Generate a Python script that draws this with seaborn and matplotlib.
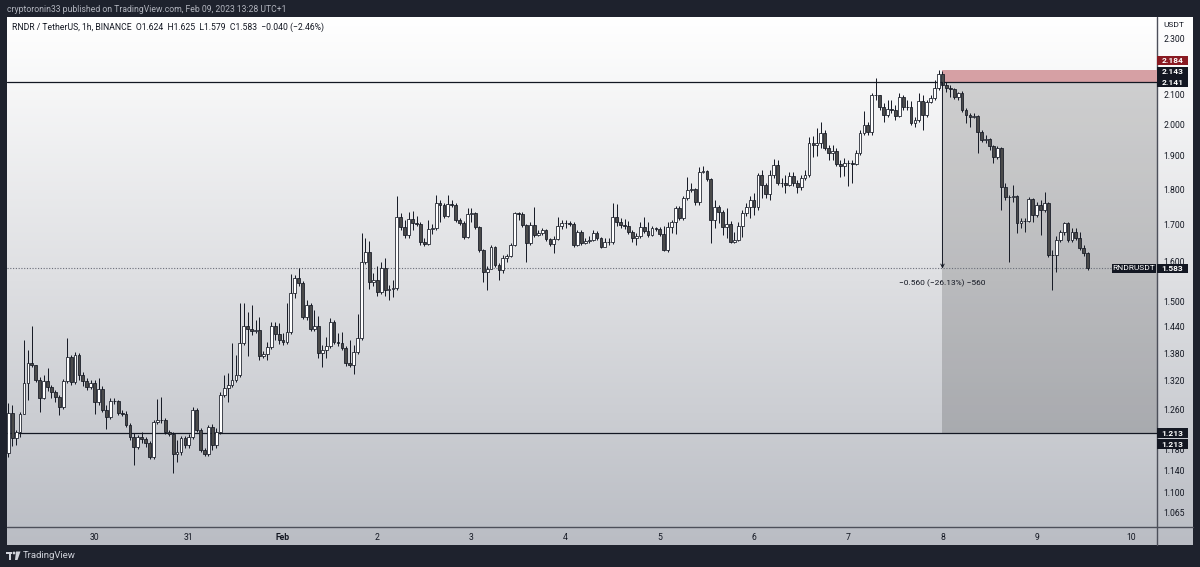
import numpy as np
import pandas as pd
import matplotlib
matplotlib.use("Agg")
import matplotlib.pyplot as plt
import seaborn as sns
from matplotlib.patches import Rectangle, Polygon, Circle
from matplotlib.lines import Line2D
from matplotlib.colors import LinearSegmentedColormap
from matplotlib.transforms import IdentityTransform
from matplotlib.ticker import NullLocator

# RNDR / USDT hourly candles, Jan 29 02:00 -> Feb 9 13:00 (UTC+1)
start_time = "2023-01-29 02:00"
first_open = 1.173
close = [
    1.253, 1.203, 1.214, 1.251, 1.315, 1.358, 1.354, 1.321, 1.283, 1.319, 1.306, 1.296,
    1.285, 1.265, 1.319, 1.371, 1.317, 1.376, 1.332, 1.319, 1.306, 1.315, 1.275, 1.302,
    1.259, 1.245, 1.277, 1.277, 1.253, 1.251, 1.228, 1.205, 1.185, 1.205, 1.201, 1.193,
    1.166, 1.234, 1.238, 1.238, 1.214, 1.210, 1.171, 1.175, 1.203, 1.189, 1.205, 1.259,
    1.218, 1.179, 1.171, 1.224, 1.189, 1.214, 1.290, 1.304, 1.310, 1.321, 1.332, 1.403,
    1.442, 1.435, 1.431, 1.433, 1.374, 1.378, 1.394, 1.442, 1.424, 1.410, 1.405, 1.428,
    1.522, 1.559, 1.547, 1.463, 1.492, 1.435, 1.442, 1.380, 1.387, 1.396, 1.451, 1.405,
    1.403, 1.392, 1.358, 1.354, 1.383, 1.415, 1.600, 1.626, 1.549, 1.554, 1.524, 1.584,
    1.529, 1.532, 1.534, 1.720, 1.693, 1.672, 1.715, 1.704, 1.701, 1.653, 1.647, 1.688,
    1.690, 1.760, 1.755, 1.723, 1.758, 1.755, 1.712, 1.704, 1.666, 1.729, 1.732, 1.693,
    1.631, 1.574, 1.582, 1.639, 1.592, 1.579, 1.610, 1.615, 1.645, 1.732, 1.729, 1.699,
    1.650, 1.699, 1.672, 1.677, 1.685, 1.661, 1.647, 1.661, 1.696, 1.704, 1.704, 1.701,
    1.645, 1.680, 1.650, 1.655, 1.658, 1.677, 1.663, 1.639, 1.653, 1.653, 1.720, 1.707,
    1.699, 1.696, 1.680, 1.663, 1.669, 1.693, 1.682, 1.672, 1.690, 1.688, 1.674, 1.631,
    1.693, 1.707, 1.746, 1.718, 1.775, 1.798, 1.801, 1.763, 1.851, 1.854, 1.830, 1.712,
    1.749, 1.735, 1.693, 1.701, 1.653, 1.658, 1.696, 1.732, 1.749, 1.769, 1.749, 1.842,
    1.812, 1.786, 1.842, 1.872, 1.818, 1.818, 1.812, 1.839, 1.818, 1.807, 1.833, 1.842,
    1.940, 1.934, 1.940, 1.972, 1.924, 1.909, 1.915, 1.875, 1.869, 1.878, 1.878, 1.875,
    1.909, 1.972, 1.998, 1.975, 2.097, 2.097, 2.057, 2.030, 2.050, 2.047, 2.027, 2.090,
    2.057, 2.057, 2.004, 2.014, 2.077, 2.030, 2.073, 2.087, 2.121, 2.170, 2.131, 2.121,
    2.117, 2.090, 2.104, 2.047, 2.030, 2.024, 2.027, 1.975, 1.950, 1.953, 1.931, 1.896,
    1.924, 1.807, 1.778, 1.778, 1.781, 1.704, 1.710, 1.710, 1.772, 1.726, 1.755, 1.740,
    1.760, 1.618, 1.618, 1.658, 1.680, 1.704, 1.658, 1.680, 1.663, 1.637, 1.624, 1.583,
]
high = [
    1.273, 1.269, 1.218, 1.255, 1.410, 1.387, 1.442, 1.354, 1.328, 1.332, 1.347, 1.310,
    1.300, 1.290, 1.323, 1.415, 1.376, 1.383, 1.380, 1.339, 1.325, 1.321, 1.321, 1.325,
    1.308, 1.269, 1.283, 1.283, 1.279, 1.259, 1.257, 1.232, 1.212, 1.208, 1.214, 1.205,
    1.197, 1.238, 1.281, 1.285, 1.242, 1.218, 1.214, 1.199, 1.207, 1.207, 1.210, 1.265,
    1.263, 1.222, 1.183, 1.228, 1.230, 1.222, 1.296, 1.332, 1.336, 1.403, 1.376, 1.497,
    1.497, 1.475, 1.492, 1.456, 1.463, 1.385, 1.405, 1.451, 1.451, 1.449, 1.426, 1.497,
    1.569, 1.567, 1.584, 1.552, 1.504, 1.497, 1.480, 1.466, 1.399, 1.417, 1.461, 1.456,
    1.426, 1.428, 1.396, 1.410, 1.399, 1.470, 1.677, 1.663, 1.655, 1.572, 1.590, 1.600,
    1.610, 1.542, 1.554, 1.781, 1.732, 1.712, 1.735, 1.737, 1.723, 1.707, 1.663, 1.712,
    1.701, 1.784, 1.769, 1.760, 1.784, 1.769, 1.760, 1.718, 1.710, 1.746, 1.746, 1.735,
    1.696, 1.634, 1.590, 1.645, 1.642, 1.597, 1.618, 1.621, 1.650, 1.735, 1.735, 1.735,
    1.701, 1.707, 1.749, 1.685, 1.690, 1.688, 1.663, 1.669, 1.720, 1.712, 1.712, 1.710,
    1.707, 1.685, 1.685, 1.663, 1.669, 1.685, 1.682, 1.666, 1.663, 1.663, 1.760, 1.758,
    1.718, 1.715, 1.710, 1.685, 1.677, 1.707, 1.720, 1.707, 1.696, 1.693, 1.693, 1.696,
    1.707, 1.712, 1.752, 1.752, 1.781, 1.836, 1.818, 1.805, 1.866, 1.869, 1.857, 1.833,
    1.769, 1.755, 1.740, 1.746, 1.710, 1.680, 1.707, 1.740, 1.760, 1.781, 1.789, 1.848,
    1.857, 1.818, 1.857, 1.890, 1.887, 1.833, 1.842, 1.851, 1.851, 1.827, 1.842, 1.857,
    1.959, 1.962, 1.988, 2.007, 1.981, 1.934, 1.934, 1.924, 1.887, 1.893, 1.887, 1.887,
    1.918, 1.981, 2.044, 2.007, 2.104, 2.156, 2.097, 2.070, 2.080, 2.080, 2.064, 2.104,
    2.097, 2.080, 2.077, 2.024, 2.104, 2.097, 2.080, 2.097, 2.149, 2.184, 2.180, 2.142,
    2.131, 2.121, 2.107, 2.111, 2.053, 2.037, 2.037, 2.030, 1.981, 1.966, 1.956, 1.934,
    1.931, 1.928, 1.818, 1.784, 1.812, 1.784, 1.718, 1.718, 1.778, 1.775, 1.763, 1.769,
    1.792, 1.763, 1.631, 1.669, 1.685, 1.707, 1.707, 1.690, 1.690, 1.680, 1.645, 1.625,
]
low = [
    1.166, 1.187, 1.189, 1.205, 1.251, 1.279, 1.350, 1.317, 1.255, 1.281, 1.298, 1.283,
    1.275, 1.249, 1.261, 1.315, 1.310, 1.313, 1.321, 1.308, 1.300, 1.302, 1.251, 1.269,
    1.255, 1.220, 1.240, 1.271, 1.249, 1.247, 1.224, 1.199, 1.151, 1.181, 1.193, 1.185,
    1.162, 1.162, 1.230, 1.232, 1.210, 1.207, 1.137, 1.156, 1.169, 1.183, 1.183, 1.201,
    1.214, 1.175, 1.168, 1.168, 1.179, 1.183, 1.210, 1.285, 1.275, 1.306, 1.317, 1.328,
    1.399, 1.374, 1.422, 1.426, 1.365, 1.369, 1.365, 1.389, 1.410, 1.401, 1.399, 1.401,
    1.424, 1.509, 1.539, 1.458, 1.456, 1.431, 1.431, 1.369, 1.350, 1.369, 1.392, 1.401,
    1.396, 1.387, 1.352, 1.350, 1.334, 1.378, 1.410, 1.595, 1.532, 1.539, 1.514, 1.519,
    1.514, 1.504, 1.512, 1.529, 1.685, 1.663, 1.663, 1.685, 1.696, 1.645, 1.642, 1.645,
    1.674, 1.685, 1.707, 1.718, 1.720, 1.749, 1.707, 1.699, 1.661, 1.663, 1.707, 1.688,
    1.626, 1.549, 1.529, 1.592, 1.587, 1.554, 1.572, 1.600, 1.613, 1.642, 1.712, 1.693,
    1.600, 1.645, 1.666, 1.669, 1.672, 1.655, 1.642, 1.623, 1.658, 1.688, 1.690, 1.696,
    1.639, 1.642, 1.645, 1.647, 1.650, 1.655, 1.658, 1.637, 1.642, 1.645, 1.647, 1.696,
    1.690, 1.688, 1.674, 1.653, 1.645, 1.663, 1.677, 1.666, 1.669, 1.682, 1.669, 1.628,
    1.626, 1.677, 1.674, 1.712, 1.712, 1.769, 1.792, 1.755, 1.755, 1.848, 1.824, 1.650,
    1.690, 1.704, 1.672, 1.663, 1.650, 1.650, 1.655, 1.666, 1.723, 1.718, 1.726, 1.740,
    1.775, 1.775, 1.769, 1.833, 1.812, 1.807, 1.789, 1.810, 1.810, 1.789, 1.798, 1.827,
    1.836, 1.896, 1.899, 1.924, 1.918, 1.887, 1.887, 1.869, 1.836, 1.839, 1.810, 1.818,
    1.872, 1.903, 1.966, 1.966, 1.966, 2.080, 2.047, 2.007, 2.024, 2.037, 2.014, 2.024,
    2.047, 2.047, 1.998, 1.991, 2.007, 1.981, 2.024, 2.070, 2.080, 2.114, 2.124, 2.107,
    2.090, 2.083, 2.080, 2.040, 2.004, 1.991, 2.020, 1.909, 1.944, 1.940, 1.918, 1.878,
    1.890, 1.740, 1.769, 1.600, 1.763, 1.677, 1.690, 1.680, 1.707, 1.707, 1.720, 1.672,
    1.735, 1.613, 1.529, 1.574, 1.653, 1.672, 1.653, 1.653, 1.658, 1.631, 1.615, 1.579,
]
assert len(close) == len(high) == len(low)

day_labels = ["30", "31", "Feb", "2", "3", "4", "5", "6", "7", "8", "9", "10"]
price_ticks = [2.300, 2.100, 2.000, 1.900, 1.800, 1.700, 1.600, 1.500,
               1.440, 1.380, 1.320, 1.260, 1.180, 1.140, 1.100, 1.065]

# short position drawn on the chart + horizontal levels
entry_time = "2023-02-08 00:00"
stop_price = 2.184
entry_price = 2.143
level_top = 2.141
target_price = 1.213
last_price = 1.583
measure_text = "\u22120.560 (\u221226.13%) \u2212560"

sns.set_theme(style="white")
plt.rcParams["font.family"] = ["Roboto", "DejaVu Sans"]

W, H = 1200, 567
INK = "#131722"


def fx(px):
    return px / W


def fy(py):
    return 1 - py / H


fig = plt.figure(figsize=(W / 100, H / 100), dpi=100)
fig.patch.set_facecolor("#1e222d")

# light panel with the vertical gradient
bg = fig.add_axes([fx(7), fy(545), fx(1193) - fx(7), fy(17) - fy(545)])
grad = np.linspace(0, 1, 256).reshape(-1, 1)
cmap = LinearSegmentedColormap.from_list("tvbg", ["#ffffff", "#dedfe2", "#babdc4"])
bg.imshow(grad, aspect="auto", cmap=cmap, extent=[0, 1, 0, 1], origin="upper")
bg.set_axis_off()

ax = fig.add_axes([fx(7), fy(527), fx(1157) - fx(7), fy(17) - fy(527)])
ax.set_zorder(2)
ax.patch.set_visible(False)

df = pd.DataFrame({
    "time": pd.date_range(start_time, periods=len(close), freq="h"),
    "close": close, "high": high, "low": low,
})
df["open"] = [first_open] + close[:-1]
df["x"] = (df["time"] - df["time"].iloc[0]) / pd.Timedelta(hours=1)
up = df["close"] >= df["open"]
body_lo = df[["open", "close"]].min(axis=1)
body_h = (df["close"] - df["open"]).abs()

ax.set_yscale("log")
ax.set_xlim(-0.33, 292.66)
ax.set_ylim(1.041, 2.380)

# candles
ax.vlines(df["x"], df["low"], df["high"], color=INK, lw=0.7, zorder=3)
ax.bar(df["x"][up], body_h[up], bottom=body_lo[up], width=0.72,
       color="white", edgecolor=INK, linewidth=0.55, zorder=4)
ax.bar(df["x"][~up], body_h[~up], bottom=body_lo[~up], width=0.72,
       color="#4a4a4a", edgecolor=INK, linewidth=0.55, zorder=4)

# position tool
entry_x = (pd.Timestamp(entry_time) - df["time"].iloc[0]) / pd.Timedelta(hours=1)
x_right = ax.get_xlim()[1]
ax.fill_between([entry_x, x_right], target_price, entry_price,
                color="black", alpha=0.16, lw=0, zorder=1)
ax.fill_between([entry_x, x_right], entry_price, stop_price,
                color="#d6a0a4", lw=0, zorder=1)
ax.axhline(level_top, color=INK, lw=0.9, zorder=2)
ax.axhline(target_price, color=INK, lw=0.9, zorder=2)
ax.axhline(last_price, color="#6a6d78", lw=0.8, ls=(0, (1, 1.5)), zorder=2)

ax.annotate("", xy=(entry_x, last_price), xytext=(entry_x, level_top),
            arrowprops=dict(arrowstyle="->", lw=0.7, color=INK,
                            shrinkA=0, shrinkB=0, mutation_scale=6), zorder=5)
ax.text(entry_x, 1.547, measure_text, ha="center", va="center",
        fontsize=6, color=INK, zorder=5)

# axes
day_x = (pd.date_range("2023-01-30", periods=len(day_labels), freq="D")
         - df["time"].iloc[0]) / pd.Timedelta(hours=1)
ax.set_xticks(day_x, day_labels)
ax.yaxis.tick_right()
ax.set_yticks(price_ticks, [f"{p:.3f}" for p in price_ticks])
ax.yaxis.set_minor_locator(NullLocator())
ax.tick_params(axis="y", length=0, pad=4.5, labelsize=6.2, labelcolor=INK)
ax.tick_params(axis="x", length=0, pad=4, labelsize=6.2, labelcolor=INK)
for lbl in ax.get_xticklabels():
    if lbl.get_text() == "Feb":
        lbl.set_fontweight("bold")
for s in ax.spines.values():
    s.set_visible(False)

fig.add_artist(Line2D([fx(7), fx(1193)], [fy(526.5)] * 2, transform=fig.transFigure,
                      color="#4c4f5a", lw=1.0))
fig.add_artist(Line2D([fx(1157)] * 2, [fy(17), fy(545)], transform=fig.transFigure,
                      color="#4c4f5a", lw=1.0))


def tag(price, text, fc, dy=0.0, x0=1157, w=31, weight="bold"):
    yd = ax.transData.transform((0, price))[1] + dy
    fig.add_artist(Rectangle((x0, yd - 4.9), w, 9.8, transform=IdentityTransform(),
                             fc=fc, ec="none", zorder=20))
    fig.text(x0 + w / 2, yd, text, transform=IdentityTransform(), ha="center",
             va="center", color="white", fontsize=6, fontweight=weight, zorder=21)


tag(stop_price, f"{stop_price:.3f}", "#891a22", dy=9.5)
tag(entry_price, f"{entry_price:.3f}", INK, dy=10)
tag(level_top, f"{level_top:.3f}", INK)
tag(target_price, f"{target_price:.3f}", INK, dy=-0.5)
tag(target_price, f"{target_price:.3f}", INK, dy=-11.5)
tag(last_price, "RNDRUSDT", INK, x0=1112, w=44, weight="normal")
tag(last_price, f"{last_price:.3f}", INK)

# texts
fig.text(fx(7), fy(9), "cryptoronin33 published on TradingView.com, Feb 09, 2023 13:28 UTC+1",
         color="#b2b5be", fontsize=6.2, va="center")
fig.text(fx(12), fy(27),
         "RNDR / TetherUS, 1h, BINANCE  O1.624  H1.625  L1.579  C1.583  \u22120.040 (\u22122.46%)",
         color=INK, fontsize=6.2, va="center", zorder=10)
fig.text(fx(1163), fy(25), "USDT", color=INK, fontsize=6, va="center")

# TradingView mark
logo = "#d1d4dc"
fig.add_artist(Rectangle((6, H - 554), 6, 2.5, transform=IdentityTransform(), fc=logo, ec="none"))
fig.add_artist(Rectangle((8.5, H - 560), 2.5, 8.5, transform=IdentityTransform(), fc=logo, ec="none"))
fig.add_artist(Circle((14, H - 553), 1.4, transform=IdentityTransform(), fc=logo, ec="none"))
fig.add_artist(Polygon([(16, H - 551.5), (20.5, H - 551.5), (17.5, H - 560), (15, H - 560)],
                       closed=True, transform=IdentityTransform(), fc=logo, ec="none"))
fig.text(fx(23), fy(556), "TradingView", color=logo, fontsize=6.8, va="center")

fig.savefig("out.png", dpi=100, facecolor=fig.get_facecolor())
